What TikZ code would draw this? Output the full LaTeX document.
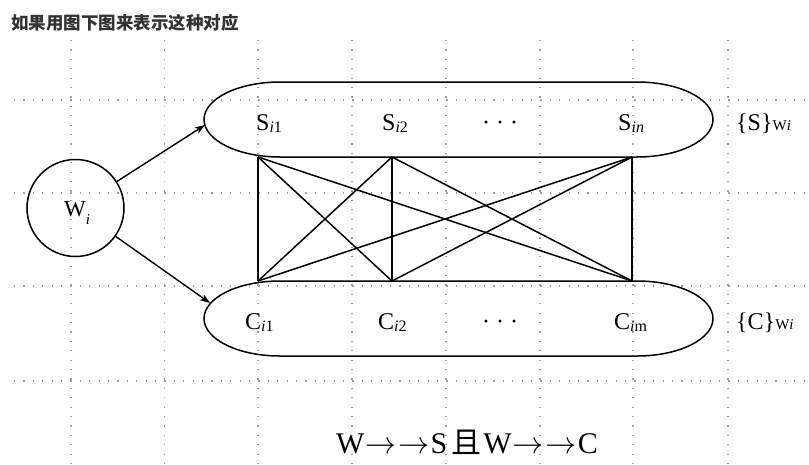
\documentclass[tikz,border=0pt]{standalone}
\usepackage{graphicx}
\usepackage{fontspec}
\setmainfont{Liberation Serif}
\newfontfamily\cjk{Noto Sans CJK SC}
\usetikzlibrary{arrows.meta}
\begin{document}
\begin{tikzpicture}[x=1pt,y=-1pt,
  gridline/.style={draw=gray!75, line width=1.1pt, dash pattern=on 1.2pt off 8.2pt},
  edge/.style={draw=black, line width=1.5pt},
  arr/.style={draw=black, line width=1.4pt, -{Stealth[length=10pt,width=7pt,inset=2.5pt]}},
  lbl/.style={anchor=base west, inner sep=0pt, font=\fontsize{24}{24}\selectfont},
  dotslbl/.style={anchor=base, inner sep=0pt, font=\fontsize{24}{24}\selectfont},
  circ/.style={circle, draw=black, line width=1.5pt, minimum size=97pt, inner sep=0pt}
]
\newcommand{\sbx}[1]{{\fontsize{16}{16}\selectfont\raisebox{-2pt}{#1}}}
\newcommand{\wsub}{{\fontsize{15}{15}\selectfont W\textit{i}}}
\newcommand{\rarr}{{\fontsize{20}{20}\selectfont\scalebox{1.5}{$\rightarrow$}}}
\useasboundingbox (0,0) rectangle (809,464);
% background dotted grid
\foreach \gx in {71,164.5,258,352,446,540,633,728}
  \draw[gridline] (\gx,40) -- (\gx,464);
\foreach \gy in {100,193,286,381}
  \draw[gridline] (14,\gy) -- (809,\gy);
% title
\node[anchor=west, inner sep=0pt, text=black!80] (title) at (11,23)
  {\cjk\bfseries\fontsize{17.5}{17.5}\selectfont 如果用图下图来表示这种对应};
% stadium shapes
\draw[edge] (280,82) -- (637,82)
  arc[start angle=90, end angle=-90, x radius=76pt, y radius=37.5pt]
  -- (280,157)
  arc[start angle=270, end angle=90, x radius=76pt, y radius=37.5pt] -- cycle;
\draw[edge] (280,281) -- (637,281)
  arc[start angle=90, end angle=-90, x radius=76pt, y radius=37.5pt]
  -- (280,356)
  arc[start angle=270, end angle=90, x radius=76pt, y radius=37.5pt] -- cycle;
% corner points
\coordinate (s1) at (258,157);
\coordinate (s2) at (392,157);
\coordinate (sn) at (632,157);
\coordinate (c1) at (258,281);
\coordinate (c2) at (392,281);
\coordinate (cm) at (632,281);
\coordinate (Sleft) at (205,125);
\coordinate (Cleft) at (210,303);
% complete bipartite connections
\foreach \a in {s1,s2,sn}
  \foreach \b in {c1,c2,cm}
    \draw[edge] (\a) -- (\b);
% W circle
\node[circ] (W) at (75.5,208) {};
\node[lbl, font=\fontsize{23}{23}\selectfont] (Wt) at (64,216)
  {W{\fontsize{15}{15}\selectfont\raisebox{-8pt}{\textit{i}}}};
\draw[arr] (W) -- (Sleft);
\draw[arr] (W) -- (Cleft);
% labels top
\node[lbl] (S1) at (256,130) {S\sbx{\textit{i}1}};
\node[lbl] (S2) at (382,130) {S\sbx{\textit{i}2}};
\node[dotslbl] (Sd) at (500,130) {· · ·};
\node[lbl] (Sn) at (618,130) {S\sbx{\textit{in}}};
\node[lbl] (Sset) at (736,130) {\{S\}\wsub};
% labels bottom
\node[lbl] (C1) at (245,329) {C\sbx{\textit{i}1}};
\node[lbl] (C2) at (378,329) {C\sbx{\textit{i}2}};
\node[dotslbl] (Cd) at (500,329) {· · ·};
\node[lbl] (Cm) at (614,329) {C\sbx{\textit{i}m}};
\node[lbl] (Cset) at (736,329) {\{C\}\wsub};
% bottom formula
\node[anchor=base west, inner sep=0pt, font=\fontsize{30}{30}\selectfont] (formula) at (336,453)
  {W\kern1pt\rarr\kern2pt\rarr\kern1pt S\kern4pt{\cjk 且}\kern2pt W\kern1pt\rarr\kern2pt\rarr\kern1pt C};
\end{tikzpicture}
\end{document}
